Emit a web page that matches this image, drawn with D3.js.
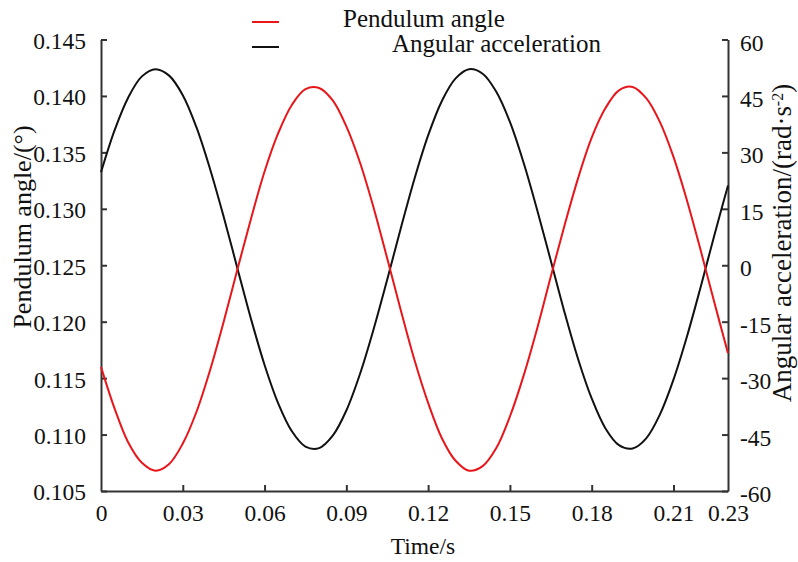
<!DOCTYPE html>
<html>
<head>
<meta charset="utf-8">
<script src="https://cdn.jsdelivr.net/npm/d3@7"></script>
<style>
  body { margin: 0; background: #fff; }
  svg { display: block; font-family: "Liberation Serif", "Times New Roman", serif; }
</style>
</head>
<body>
<svg id="chart" width="798" height="562"></svg>
<script>
// time samples (s), every 0.005 s
var time = [0, 0.005, 0.01, 0.015, 0.02, 0.025, 0.03, 0.035, 0.04, 0.045,
  0.05, 0.055, 0.06, 0.065, 0.07, 0.075, 0.08, 0.085, 0.09, 0.095,
  0.1, 0.105, 0.11, 0.115, 0.12, 0.125, 0.13, 0.135, 0.14, 0.145,
  0.15, 0.155, 0.16, 0.165, 0.17, 0.175, 0.18, 0.185, 0.19, 0.195,
  0.2, 0.205, 0.21, 0.215, 0.22, 0.225, 0.23];
// pendulum angle (deg), left axis
var angle = [0.1160, 0.1123, 0.1093, 0.1075, 0.1068, 0.1074, 0.1092, 0.1120, 0.1157, 0.1200,
  0.1246, 0.1291, 0.1333, 0.1367, 0.1392, 0.1406, 0.1407, 0.1396, 0.1373, 0.1341,
  0.1301, 0.1256, 0.1210, 0.1166, 0.1128, 0.1097, 0.1077, 0.1068, 0.1072, 0.1088,
  0.1116, 0.1152, 0.1194, 0.1240, 0.1285, 0.1327, 0.1363, 0.1389, 0.1405, 0.1408,
  0.1398, 0.1377, 0.1346, 0.1307, 0.1263, 0.1217, 0.1172];
// angular acceleration (rad/s^2), right axis
var accel = [24.7, 35.9, 44.6, 50.2, 52.1, 50.4, 45.2, 36.7, 25.6, 12.9,
  -0.7, -14.2, -26.5, -36.7, -44.1, -48.2, -48.6, -45.3, -38.6, -28.9,
  -17.0, -3.8, 9.9, 23.0, 34.5, 43.6, 49.6, 52.1, 50.9, 46.1,
  38.1, 27.3, 14.7, 1.2, -12.4, -24.9, -35.4, -43.3, -47.8, -48.7,
  -46.0, -39.7, -30.4, -18.8, -5.7, 8.0, 21.2];

var xTicks = [0, 0.03, 0.06, 0.09, 0.12, 0.15, 0.18, 0.21, 0.23];
var leftTicks = [0.105, 0.110, 0.115, 0.120, 0.125, 0.130, 0.135, 0.140, 0.145];
var rightTicks = [-60, -45, -30, -15, 0, 15, 30, 45, 60];

var seriesNames = ["Pendulum angle", "Angular acceleration"];
var seriesColors = ["#e8161b", "#111111"];

var svg = d3.select("#chart");
var plotLeft = 101, plotRight = 728, plotTop = 39.5, plotBottom = 491;

var x = d3.scaleLinear().domain([0, 0.23]).range([plotLeft, plotRight]);
var yL = d3.scaleLinear().domain([0.105, 0.145]).range([plotBottom, plotTop]);
var yR = d3.scaleLinear().domain([-60, 60]).range([plotBottom, plotTop]);

var axisColor = "#333";
var tickFont = "23.5px";

// axes, ticks pointing inward
var gx = svg.append("g").attr("transform", "translate(0," + plotBottom + ")")
  .call(d3.axisBottom(x).tickValues(xTicks).tickSizeInner(-6).tickSizeOuter(0)
    .tickPadding(13).tickFormat(function (d) { return d === 0 ? "0" : d3.format(".2f")(d); }));
var gl = svg.append("g").attr("transform", "translate(" + plotLeft + ",0)")
  .call(d3.axisLeft(yL).tickValues(leftTicks).tickSizeInner(-6).tickSizeOuter(0)
    .tickPadding(15).tickFormat(d3.format(".3f")));
var gr = svg.append("g").attr("transform", "translate(" + plotRight + ",0)")
  .call(d3.axisRight(yR).tickValues(rightTicks).tickSizeInner(-6).tickSizeOuter(0)
    .tickPadding(12).tickFormat(function (d) { return String(d); }));

[gx, gl, gr].forEach(function (g) {
  g.attr("font-family", null);
  g.select(".domain").attr("stroke", axisColor).attr("stroke-width", 2);
  g.selectAll(".tick line").attr("stroke", axisColor).attr("stroke-width", 2);
  g.selectAll(".tick text").attr("fill", "#111").style("font-size", tickFont)
    .style("font-family", "Liberation Serif");
});
gx.selectAll(".tick").filter(function (d) { return d === 0 || d === 0.23; }).select("line").remove();
gl.selectAll(".tick text").attr("dy", "0.38em");
gr.selectAll(".tick text").attr("dy", "0.45em");

// curves
var lineL = d3.line().x(function (d, i) { return x(time[i]); }).y(function (d) { return yL(d); })
  .curve(d3.curveCatmullRom);
var lineR = d3.line().x(function (d, i) { return x(time[i]); }).y(function (d) { return yR(d); })
  .curve(d3.curveCatmullRom);

svg.append("path").datum(accel).attr("d", lineR)
  .attr("fill", "none").attr("stroke", seriesColors[1]).attr("stroke-width", 2);
svg.append("path").datum(angle).attr("d", lineL)
  .attr("fill", "none").attr("stroke", seriesColors[0]).attr("stroke-width", 2);

// axis titles
svg.append("text").attr("x", 423).attr("y", 554).attr("text-anchor", "middle")
  .style("font-size", "23.5px").attr("fill", "#111").text("Time/s");
svg.append("text").attr("transform", "translate(31,227) rotate(-90)").attr("text-anchor", "middle")
  .style("font-size", "26px").attr("fill", "#111").text("Pendulum angle/(°)");
var rt = svg.append("text").attr("transform", "translate(791,243) rotate(-90)").attr("text-anchor", "middle")
  .style("font-size", "27px").attr("fill", "#111");
rt.append("tspan").text("Angular acceleration/(rad·s");
rt.append("tspan").attr("dy", -8).style("font-size", "16px").text("-2");
rt.append("tspan").attr("dy", 8).text(")");

// legend
var legendY = [22, 47];
var legendTextX = [343, 392];
seriesNames.forEach(function (name, i) {
  svg.append("line").attr("x1", 252).attr("x2", 279).attr("y1", legendY[i]).attr("y2", legendY[i])
    .attr("stroke", seriesColors[i]).attr("stroke-width", 2);
  svg.append("text").attr("x", legendTextX[i]).attr("y", legendY[i] + 5)
    .style("font-size", "25px").attr("fill", "#111").text(name);
});
</script>
</body>
</html>
